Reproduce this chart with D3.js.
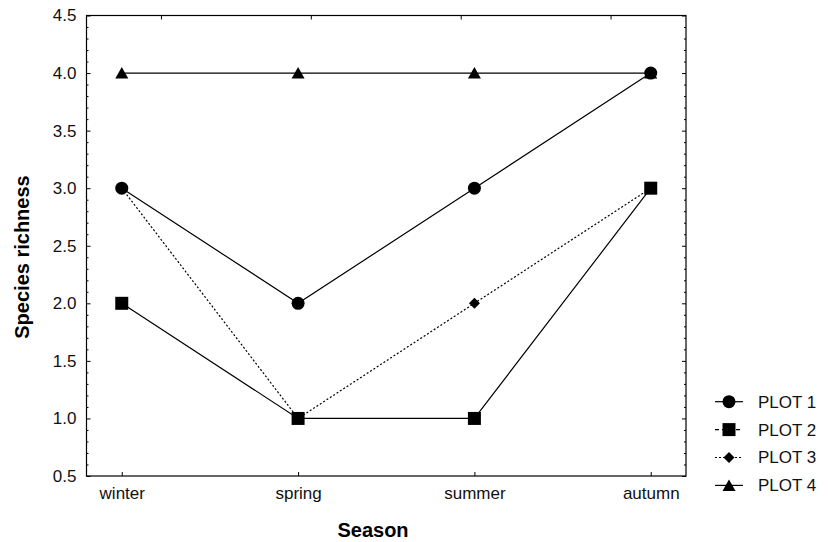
<!DOCTYPE html>
<html>
<head>
<meta charset="utf-8">
<script src="https://cdn.jsdelivr.net/npm/d3@7"></script>
<style>
  html, body { margin: 0; padding: 0; background: #fff; }
  svg { display: block; font-family: "Liberation Sans", Arial, sans-serif; }
</style>
</head>
<body>
<div id="chart"></div>
<script>
// chart data
const seasons = ['winter', 'spring', 'summer', 'autumn'];
const plot1 = [3, 2, 3, 4];
const plot2 = [2, 1, 1, 3];
const plot3 = [3, 1, 2, 3];
const plot4 = [4, 4, 4, 4];
const yTicks = [0.5, 1.0, 1.5, 2.0, 2.5, 3.0, 3.5, 4.0, 4.5];
const seriesNames = ['PLOT 1', 'PLOT 2', 'PLOT 3', 'PLOT 4'];

const W = 829, H = 542;
const margin = { top: 15.5, right: 143, bottom: 66, left: 86.5 };
const innerW = W - margin.left - margin.right;
const innerH = H - margin.top - margin.bottom;

// custom marker shapes
const shapes = {
    circle: { draw(ctx) { ctx.moveTo(6.5, 0); ctx.arc(0, 0, 6.5, 0, 2 * Math.PI); } },
    square: { draw(ctx) { ctx.rect(-6.5, -6.5, 13, 13); } },
    diamond: { draw(ctx) { ctx.moveTo(0, -5.5); ctx.lineTo(5.5, 0); ctx.lineTo(0, 5.5); ctx.lineTo(-5.5, 0); ctx.closePath(); } },
    triangle: { draw(ctx) { ctx.moveTo(0, -6); ctx.lineTo(6.5, 5.5); ctx.lineTo(-6.5, 5.5); ctx.closePath(); } }
};

// draw order: dotted series first so other markers sit on top
const series = [
    { name: seriesNames[2], values: plot3, shape: 'diamond', dash: '2,2', legendDash: '2,2' },
    { name: seriesNames[3], values: plot4, shape: 'triangle', dash: null, legendDash: null },
    { name: seriesNames[1], values: plot2, shape: 'square', dash: null, legendDash: '4,3' },
    { name: seriesNames[0], values: plot1, shape: 'circle', dash: null, legendDash: null }
];

const svg = d3.select('#chart').append('svg')
    .attr('width', W)
    .attr('height', H);

const g = svg.append('g')
    .attr('transform', `translate(${margin.left},${margin.top})`);

const x = d3.scalePoint()
    .domain(seasons)
    .range([0, innerW])
    .padding(0.2);

const y = d3.scaleLinear()
    .domain([0.5, 4.5])
    .range([innerH, 0]);

const minor = d3.range(5, 46).map(d => d / 10).filter(d => Math.round(d * 10) % 5 !== 0);

// Left axis (ticks point inward)
const left = g.append('g')
    .call(d3.axisLeft(y).tickValues(yTicks).tickFormat(d3.format('.1f')).tickSize(-4).tickPadding(10));
left.select('.domain').remove();
left.selectAll('text')
    .style('font-size', '17px')
    .style('fill', '#111');

g.append('g')
    .call(d3.axisLeft(y).tickValues(minor).tickSize(-2).tickFormat(''))
    .select('.domain').remove();

// Right axis
g.append('g')
    .attr('transform', `translate(${innerW},0)`)
    .call(d3.axisRight(y).tickValues(yTicks).tickSize(-4).tickFormat(''))
    .select('.domain').remove();
g.append('g')
    .attr('transform', `translate(${innerW},0)`)
    .call(d3.axisRight(y).tickValues(minor).tickSize(-2).tickFormat(''))
    .select('.domain').remove();

// Bottom axis
const bottom = g.append('g')
    .attr('transform', `translate(0,${innerH})`)
    .call(d3.axisBottom(x).tickSize(-4).tickPadding(11));
bottom.select('.domain').remove();
bottom.selectAll('text')
    .style('font-size', '17px')
    .style('fill', '#111');

// Top axis ticks sit at the middle of four equal bands
const band = d3.scaleBand().domain(seasons).range([0, innerW]);
g.append('g')
    .call(d3.axisTop(band).tickSize(-4).tickFormat(''))
    .select('.domain').remove();

g.selectAll('.tick line').attr('stroke', '#000');

// frame
g.append('rect')
    .attr('width', innerW)
    .attr('height', innerH)
    .attr('fill', 'none')
    .attr('stroke', '#000')
    .attr('stroke-width', 1.2);

// lines and markers
const line = d3.line()
    .x((d, i) => x(seasons[i]))
    .y(d => y(d));

series.forEach(s => {
    g.append('path')
        .datum(s.values)
        .attr('d', line)
        .attr('fill', 'none')
        .attr('stroke', '#000')
        .attr('stroke-width', 1.2)
        .attr('stroke-dasharray', s.dash);

    g.selectAll(null)
        .data(s.values)
        .enter()
        .append('path')
        .attr('transform', (d, i) => `translate(${x(seasons[i])},${y(d)})`)
        .attr('d', d3.symbol().type(shapes[s.shape]))
        .attr('fill', '#000');
});

// axis titles
svg.append('text')
    .attr('transform', 'translate(29,257) rotate(-90)')
    .attr('text-anchor', 'middle')
    .style('font-size', '20px')
    .style('font-weight', 'bold')
    .text('Species richness');

svg.append('text')
    .attr('x', 373)
    .attr('y', 537)
    .attr('text-anchor', 'middle')
    .style('font-size', '20px')
    .style('font-weight', 'bold')
    .text('Season');

// legend
const legendOrder = [series[3], series[2], series[0], series[1]];
const legend = svg.append('g')
    .attr('transform', 'translate(729,401.7)');

legendOrder.forEach((s, i) => {
    const row = legend.append('g')
        .attr('transform', `translate(0,${i * 27.9})`);
    row.append('line')
        .attr('x1', -14)
        .attr('x2', 14)
        .attr('stroke', '#000')
        .attr('stroke-width', 1.2)
        .attr('stroke-dasharray', s.legendDash);
    row.append('path')
        .attr('d', d3.symbol().type(shapes[s.shape]))
        .attr('fill', '#000');
    row.append('text')
        .attr('x', 29)
        .attr('dy', '0.35em')
        .style('font-size', '17px')
        .style('fill', '#111')
        .text(s.name);
});
</script>
</body>
</html>
